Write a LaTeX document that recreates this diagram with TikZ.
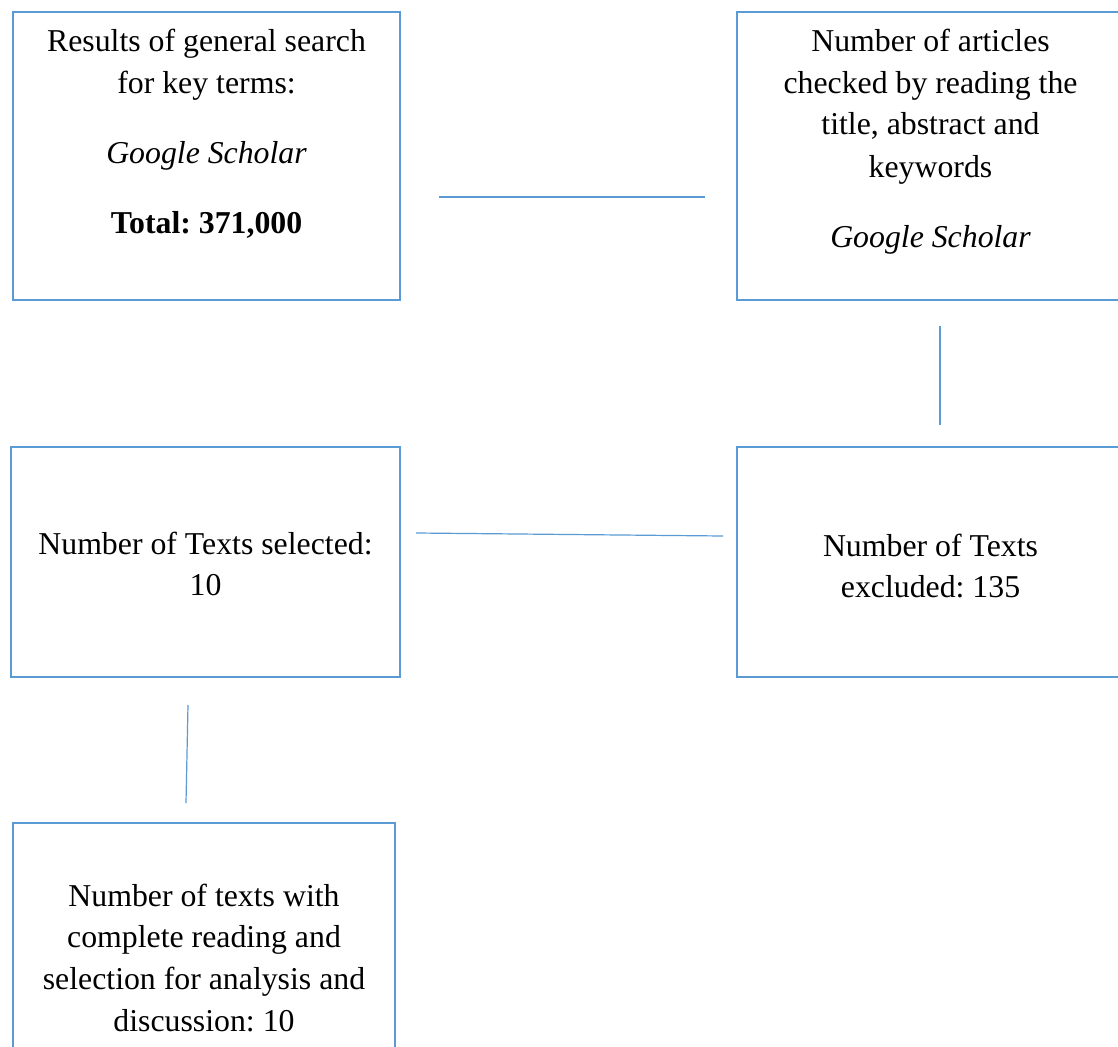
\documentclass[tikz,border=0pt]{standalone}
\usepackage{fontspec}
\setmainfont{Liberation Serif}
\definecolor{boxblue}{HTML}{5B9BD5}
\frenchspacing
\begin{document}
\begin{tikzpicture}[x=1pt,y=-1pt,
  box/.style={draw=boxblue,line width=2pt,rectangle,inner sep=0pt},
  txt/.style={anchor=base,inner sep=0pt,font=\fontsize{31.8}{41.5}\selectfont},
  link/.style={draw=boxblue,line width=1.2pt}]
\useasboundingbox (0,0) rectangle (1118,1046);
\fill[white] (0,0) rectangle (1118,1046);
% boxes
\node[box,minimum width=387pt,minimum height=288pt] (b1) at (206.5,156) {};
\node[box,minimum width=387pt,minimum height=288pt] (b2) at (930.5,156) {};
\node[box,minimum width=389pt,minimum height=230pt] (b3) at (205.5,562) {};
\node[box,minimum width=387pt,minimum height=230pt] (b4) at (930.5,562) {};
\node[box,minimum width=382pt,minimum height=243pt] (b5) at (204,944.5) {};
% texts box 1
\node[txt] (t1a) at (206.5,52) {Results of general search};
\node[txt] (t1b) at (206.5,94) {for key terms:};
\node[txt] (t1c) at (206.5,163) {\itshape Google Scholar};
\node[txt] (t1d) at (206.5,233) {\bfseries Total: 371,000};
% texts box 2
\node[txt] (t2a) at (930.5,52) {Number of articles};
\node[txt] (t2b) at (930.5,94) {checked by reading the};
\node[txt] (t2c) at (930.5,135) {title, abstract and};
\node[txt] (t2d) at (930.5,177) {keywords};
\node[txt] (t2e) at (930.5,247) {\itshape Google Scholar};
% texts box 3
\node[txt] (t3a) at (205.5,554) {Number of Texts selected:};
\node[txt] (t3b) at (205.5,595) {10};
% texts box 4
\node[txt] (t4a) at (930.5,556) {Number of Texts};
\node[txt] (t4b) at (930.5,597) {excluded: 135};
% texts box 5
\node[txt] (t5a) at (204,906) {Number of texts with};
\node[txt] (t5b) at (204,947) {complete reading and};
\node[txt] (t5c) at (204,989) {selection for analysis and};
\node[txt] (t5d) at (204,1031) {discussion: 10};
% connector ends
\coordinate (c1s) at (439,197);
\coordinate (c1e) at (705,197);
\coordinate (c2s) at (940,326);
\coordinate (c2e) at (940,425);
\coordinate (c3s) at (416,533);
\coordinate (c3e) at (723,536);
\coordinate (c4s) at (188,705);
\coordinate (c4e) at (186,803);
\draw[link] (c1s) -- (c1e);
\draw[link] (c2s) -- (c2e);
\draw[link] (c3s) -- (c3e);
\draw[link] (c4s) -- (c4e);
\end{tikzpicture}
\end{document}
